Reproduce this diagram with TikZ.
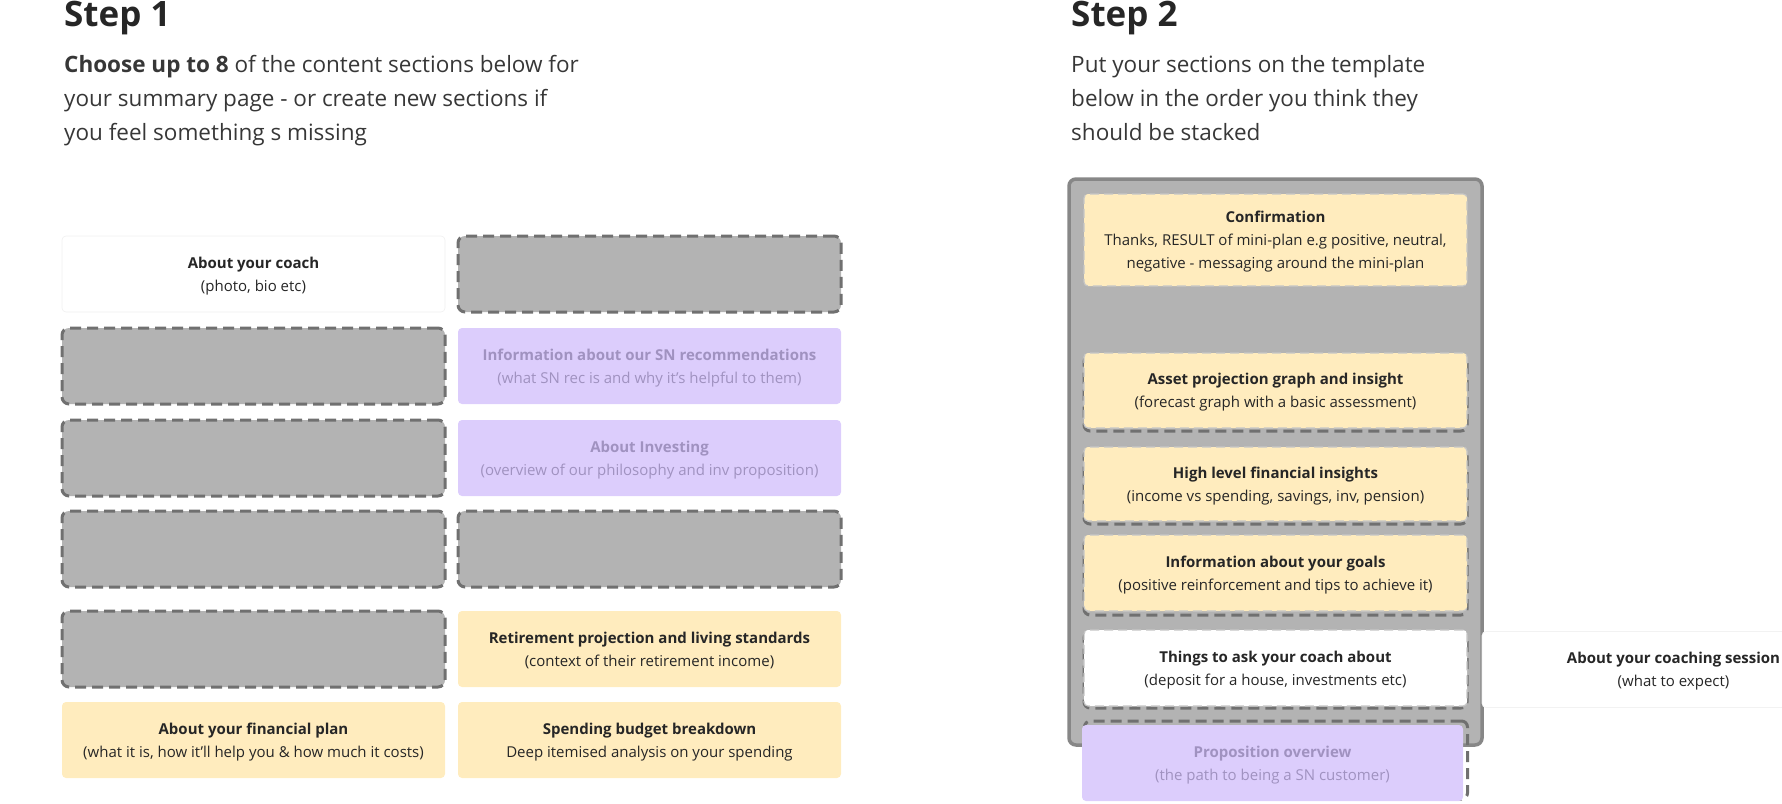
\documentclass[tikz,border=0pt]{standalone}
\usepackage{fontspec}
\setmainfont{Open Sans}
\usepackage{xcolor}
\usepackage{tikz}
\usetikzlibrary{positioning, backgrounds, calc}

\definecolor{cardyellow}{RGB}{255,236,190}
\definecolor{cardpurple}{RGB}{220,205,252}
\definecolor{slotgray}{RGB}{179,179,179}
\definecolor{slotline}{RGB}{112,112,112}
\definecolor{frameline}{RGB}{135,135,135}
\definecolor{inktext}{RGB}{38,38,38}
\definecolor{blurbtext}{RGB}{55,55,55}
\definecolor{blurtext}{RGB}{160,146,192}

\begin{document}
\begin{tikzpicture}[
		x=1pt, y=-1pt,
		node distance=16pt and 13pt,
		card/.style={rectangle, rounded corners=4pt, minimum width=383pt, minimum height=76pt, inner sep=0pt, outer sep=0pt, align=center, text depth=0pt, text=inktext, font=\fontsize{15}{23}\selectfont},
		yellowcard/.style={card, fill=cardyellow},
		purplecard/.style={card, fill=cardpurple, text=blurtext},
		whitecard/.style={card, fill=white},
		placeholder/.style={card, fill=slotgray, draw=slotline, line width=3pt, dash pattern=on 11pt off 6pt, rounded corners=7pt},
		slot/.style={card, draw=slotline, line width=3pt, dash pattern=on 11pt off 6pt, rounded corners=6pt},
		ghostline/.style={draw=slotline!40, line width=1.2pt, dash pattern=on 9pt off 5pt},
		heading/.style={anchor=base west, inner sep=0pt, font=\fontsize{35}{35}\selectfont\bfseries, text=inktext},
		blurb/.style={anchor=base west, inner sep=0pt, font=\fontsize{22.5}{24}\selectfont, text=blurbtext}
		]

		\useasboundingbox (0,0) rectangle (1782,803);

		\node[heading] (step1) at (64,27) {Step 1};
		\node[blurb] (intro1) at (64,72) {\textbf{Choose up to 8} of the content sections below for};
		\node[blurb] (intro2) at (64,106) {your summary page - or create new sections if};
		\node[blurb] (intro3) at (64,140) {you feel something s missing};

		\node[heading] (step2) at (1071,27) {Step 2};
		\node[blurb] (order1) at (1071,72) {Put your sections on the template};
		\node[blurb] (order2) at (1071,106) {below in the order you think they};
		\node[blurb] (order3) at (1071,140) {should be stacked};

		\node[whitecard, draw=black!6, line width=0.6pt] (coach) at (253.5,274) {\textbf{About your coach}\\(photo, bio etc)};
		\node[placeholder, right=of coach] (emptyR0) {};

		\node[placeholder, below=of coach] (emptyL1) {};
		\node[purplecard, below=of emptyR0] (advice) {\textbf{Information about our SN recommendations}\\(what SN rec is and why it’s helpful to them)};

		\node[placeholder, below=of emptyL1] (emptyL2) {};
		\node[purplecard, below=of advice] (investing) {\textbf{About Investing}\\(overview of our philosophy and inv proposition)};

		\node[placeholder, below=15pt of emptyL2] (emptyL3) {};
		\node[placeholder, right=of emptyL3] (emptyR3) {};

		\node[placeholder, below=24pt of emptyL3] (emptyL4) {};
		\node[yellowcard, right=of emptyL4] (retire) {\textbf{Retirement projection and living standards}\\(context of their retirement income)};

		\node[yellowcard, below=15pt of emptyL4] (plan) {\textbf{About your financial plan}\\(what it is, how it’ll help you \& how much it costs)};
		\node[yellowcard, right=of plan] (spending) {\textbf{Spending budget breakdown}\\Deep itemised analysis on your spending};

		\node[rectangle, rounded corners=7pt, fill=slotgray, draw=frameline, line width=3.5pt, minimum width=413pt, minimum height=566pt, outer sep=0pt] (template) at (1275.5,462) {};

		\node[yellowcard, ghostline, minimum height=92pt] (confirm) at (1275.5,240) {\textbf{Confirmation}\\Thanks, RESULT of mini-plan e.g positive, neutral,\\negative - messaging around the mini-plan};

		\node[slot, minimum height=75pt] (slotAsset) at (1275.5,393.5) {};
		\node[yellowcard, ghostline, minimum height=75pt] (asset) at (1275.5,390.5) {\textbf{Asset projection graph and insight}\\(forecast graph with a basic assessment)};

		\node[slot, minimum height=74pt] (slotHigh) at (1275.5,487) {};
		\node[yellowcard, ghostline, minimum height=74pt] (insights) at (1275.5,484) {\textbf{High level financial insights}\\(income vs spending, savings, inv, pension)};

		\node[slot] (slotGoals) at (1275.5,577) {};
		\node[yellowcard, ghostline] (goals) at (1275.5,573) {\textbf{Information about your goals}\\(positive reinforcement and tips to achieve it)};

		\node[slot] (slotAsk) at (1275.5,670) {};
		\node[whitecard, ghostline] (ask) at (1275.5,668) {\textbf{Things to ask your coach about}\\(deposit for a house, investments etc)};

		\node[slot, minimum height=78pt] (slotProp) at (1276,760) {};
		\node[purplecard, minimum width=381pt] (proposition) at (1272.5,763) {\textbf{Proposition overview}\\(the path to being a SN customer)};

		\node[whitecard, draw=black!5, line width=0.6pt] (session) at (1673.5,669.5) {\textbf{About your coaching session}\\(what to expect)};
	\end{tikzpicture}
\end{document}
